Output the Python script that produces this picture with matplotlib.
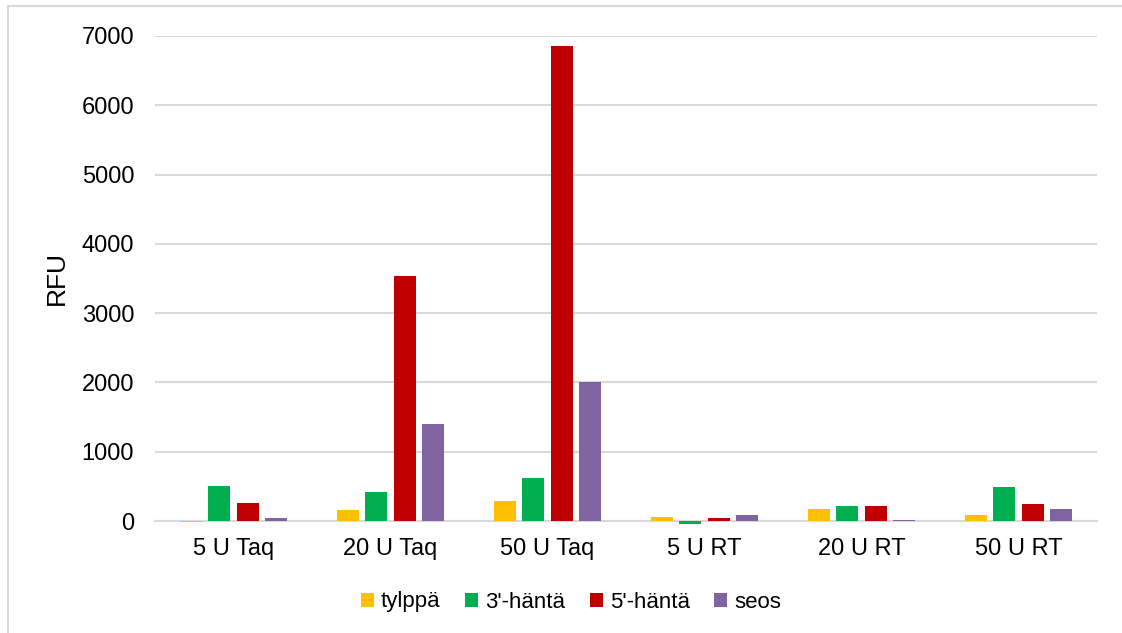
import matplotlib
matplotlib.use("Agg")
import matplotlib.pyplot as plt
import numpy as np

plt.rcParams['font.family'] = ['Liberation Sans', 'DejaVu Sans']

categories = ["5 U Taq", "20 U Taq", "50 U Taq", "5 U RT", "20 U RT", "50 U RT"]
series_names = ["tylppä", "3'-häntä", "5'-häntä", "seos"]
tylppa = [-20, 154, 284, 53, 169, 87]
hanta3 = [505, 414, 616, -42, 221, 495]
hanta5 = [265, 3535, 6855, 50, 212, 241]
seos = [39, 1395, 2006, 82, 20, 169]
colors = ["#FFC000", "#00B050", "#C00000", "#8064A2"]
yticks = [0, 1000, 2000, 3000, 4000, 5000, 6000, 7000]

W, H = 1122, 633
fig = plt.figure(figsize=(W / 100, H / 100), dpi=100)
ax = fig.add_axes([155 / W, 1 - 521 / H, (1097 - 155) / W, (521 - 36) / H])

x = np.arange(len(categories))
bw = 0.143
pitch = 0.1815
for i, (vals, c, name) in enumerate(zip([tylppa, hanta3, hanta5, seos], colors, series_names)):
    ax.bar(x + (i - 1.5) * pitch, vals, width=bw, color=c, label=name,
           clip_on=False, zorder=3, linewidth=0)

ax.set_xlim(-0.5, len(categories) - 0.5)
ax.set_ylim(0, 7000)
ax.set_yticks(yticks)
ax.set_yticklabels([str(v) for v in yticks])
ax.set_xticks(x)
ax.set_xticklabels(categories)
ax.tick_params(axis='both', length=0, labelsize=17, colors='#000000')
ax.tick_params(axis='y', pad=15)
ax.tick_params(axis='x', pad=12)
ax.grid(axis='y', color='#D9D9D9', linewidth=1.5, zorder=0)
ax.set_axisbelow(True)
for s in ['top', 'right', 'left']:
    ax.spines[s].set_visible(False)
ax.spines['bottom'].set_color('#D9D9D9')
ax.spines['bottom'].set_linewidth(1.5)
ax.spines['bottom'].set_zorder(2)

fig.text(57 / W, 1 - 278 / H, "RFU", rotation=90, ha='center', va='center', fontsize=19)

leg = fig.legend(loc='center', bbox_to_anchor=(571 / W, 1 - 602 / H), ncol=4, frameon=False,
                 fontsize=16, handlelength=0.6, handleheight=0.6, handletextpad=0.3,
                 columnspacing=1.1)

# outer chart border (top and left edges)
fig.add_artist(plt.Line2D([8 / W, 8 / W], [0, 1 - 6 / H], color='#D9D9D9', lw=1.5))
fig.add_artist(plt.Line2D([8 / W, 1], [1 - 6 / H, 1 - 6 / H], color='#D9D9D9', lw=1.5))

fig.savefig("out.png", dpi=100)
